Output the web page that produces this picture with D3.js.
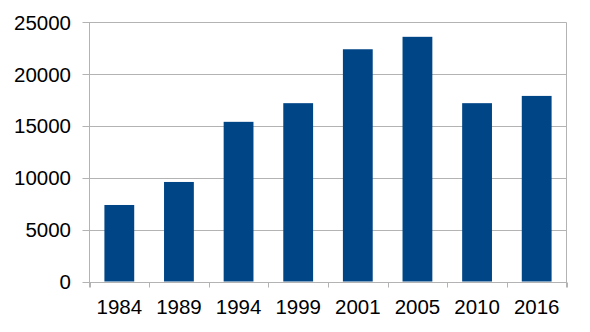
<!DOCTYPE html>
<html><head><meta charset="utf-8">
<script src="https://cdn.jsdelivr.net/npm/d3@7"></script>
<style>body{margin:0;background:#fff}svg{display:block}text{font-family:"Liberation Sans",Arial,sans-serif}</style>
</head><body>
<svg id="c" width="590" height="332"></svg>
<script>
const categories = ["1984","1989","1994","1999","2001","2005","2010","2016"];
const values = [7380, 9600, 15400, 17200, 22400, 23600, 17200, 17900];
const yTicks = [0, 5000, 10000, 15000, 20000, 25000];

const svg = d3.select("#c");
const L = 89.5, R = 566.5, T = 22.3, B = 281.5;
const x = d3.scaleBand().domain(categories).range([L, R]).paddingInner(0.5).paddingOuter(0.25);
const y = d3.scaleLinear().domain([0, 25000]).range([B, T]);
const grid = "#b3b3b3";

// gridlines
svg.append("g").selectAll("line").data(yTicks).join("line")
  .attr("x1", L - 7).attr("x2", R)
  .attr("y1", d => Math.round(y(d)) + 0.5).attr("y2", d => Math.round(y(d)) + 0.5)
  .attr("stroke", grid).attr("stroke-width", 1);

// right border
svg.append("line").attr("x1", R).attr("x2", R).attr("y1", Math.round(T)+0.5).attr("y2", B + 6)
  .attr("stroke", grid);
// left axis
svg.append("line").attr("x1", L).attr("x2", L).attr("y1", Math.round(T)+0.5).attr("y2", B + 6)
  .attr("stroke", grid);

// bars
svg.append("g").selectAll("rect").data(values).join("rect")
  .attr("x", (d, i) => x(categories[i]))
  .attr("width", x.bandwidth())
  .attr("y", d => y(d))
  .attr("height", d => y(0) - y(d))
  .attr("fill", "#004586");

// x tick marks at category boundaries
const step = x.step();
const bounds = d3.range(categories.length + 1).map(i => L + i * step);
svg.append("g").selectAll("line").data(bounds).join("line")
  .attr("x1", d => Math.round(d) + 0.5).attr("x2", d => Math.round(d) + 0.5)
  .attr("y1", Math.round(B) + 0.5).attr("y2", B + 6)
  .attr("stroke", grid);

// y labels
svg.append("g").selectAll("text").data(yTicks).join("text")
  .attr("x", 71).attr("y", d => y(d)).attr("dy", "0.36em")
  .attr("text-anchor", "end").attr("font-size", 20.5).attr("fill", "#000")
  .text(d => d);

// x labels
svg.append("g").selectAll("text").data(categories).join("text")
  .attr("x", d => x(d) + x.bandwidth() / 2).attr("y", 313.5)
  .attr("text-anchor", "middle").attr("font-size", 20.5).attr("fill", "#000")
  .text(d => d);
</script>
</body></html>
